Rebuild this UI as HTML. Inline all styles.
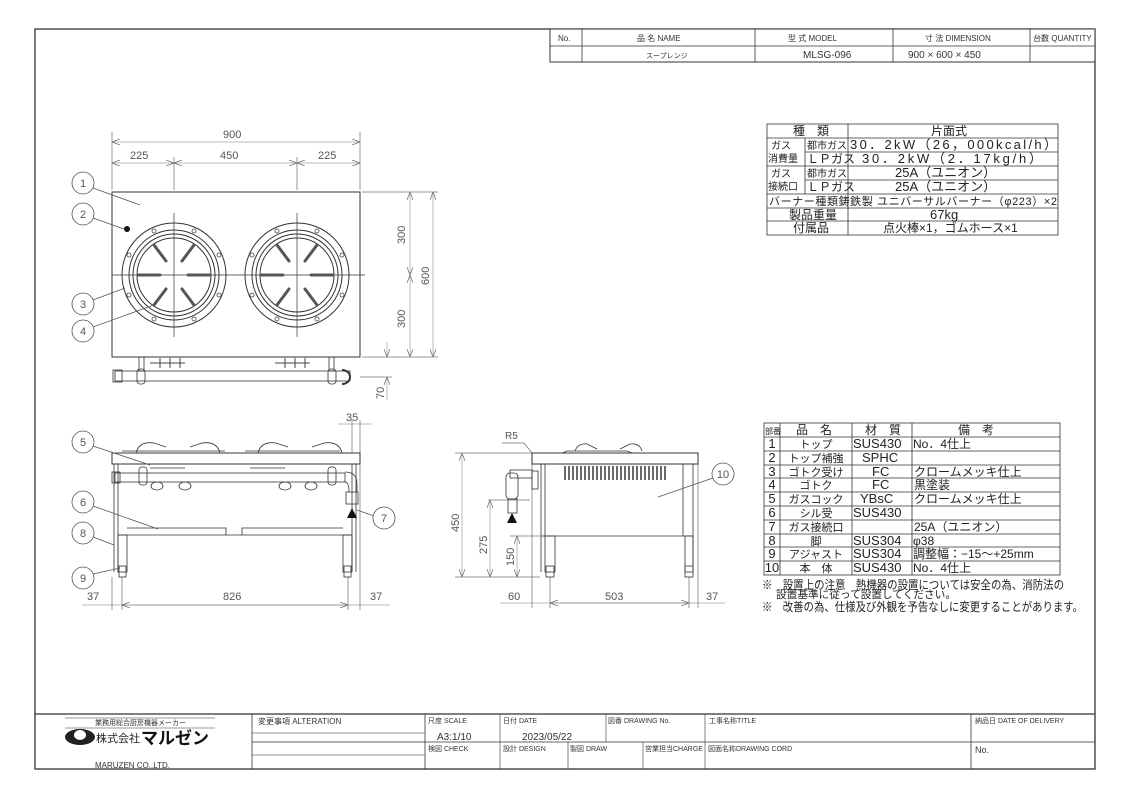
<!DOCTYPE html>
<html><head><meta charset="utf-8"><style>
html,body{margin:0;padding:0;background:#fff;}
svg{display:block;font-family:"Liberation Sans","Noto Sans CJK JP",sans-serif;}
</style></head><body>
<svg width="1131" height="799" viewBox="0 0 1131 799" xmlns="http://www.w3.org/2000/svg">
<defs>
<g id="burner">
<circle r="52" fill="none" stroke="#333" stroke-width="1"/>
<circle r="45" fill="none" stroke="#333" stroke-width="1"/>
<circle r="41" fill="none" stroke="#333" stroke-width="1"/>
<circle r="37" fill="none" stroke="#333" stroke-width="1"/>
<g fill="none" stroke="#444" stroke-width="0.8">
<circle cx="-20" cy="-44" r="2"/><circle cx="20" cy="-44" r="2"/><circle cx="-20" cy="44" r="2"/><circle cx="20" cy="44" r="2"/>
<circle cx="-45" cy="-20" r="2"/><circle cx="45" cy="-20" r="2"/><circle cx="-45" cy="20" r="2"/><circle cx="45" cy="20" r="2"/>
</g>
<g stroke="#555" stroke-width="3" stroke-linecap="round">
<line x1="-36" y1="0" x2="-14" y2="0"/><line x1="14" y1="0" x2="36" y2="0"/>
<line x1="-20" y1="-30" x2="-8" y2="-14"/><line x1="20" y1="-30" x2="8" y2="-14"/>
<line x1="-20" y1="30" x2="-8" y2="14"/><line x1="20" y1="30" x2="8" y2="14"/>
</g>
<line x1="0" y1="-62" x2="0" y2="62" stroke="#333" stroke-width="0.7"/>
</g>
<marker id="ar" markerWidth="8" markerHeight="6" refX="8" refY="3" orient="auto-start-reverse" markerUnits="userSpaceOnUse"><path d="M0,0L8,3L0,6" fill="none" stroke="#666" stroke-width="0.7"/></marker>
</defs>
<g stroke="#333" fill="none">
<rect x="35" y="29" width="1060" height="740" stroke-width="1.3"/>
<rect x="550" y="29" width="545" height="33" fill="#fff" stroke-width="1"/>
<line x1="550" y1="46" x2="1095" y2="46" stroke-width="0.8"/>
<line x1="582" y1="29" x2="582" y2="62" stroke-width="0.8"/>
<line x1="755" y1="29" x2="755" y2="62" stroke-width="0.8"/>
<line x1="893" y1="29" x2="893" y2="62" stroke-width="0.8"/>
<line x1="1030" y1="29" x2="1030" y2="62" stroke-width="0.8"/>
<line x1="35" y1="714" x2="1095" y2="714" stroke-width="1.2"/>
<line x1="252" y1="714" x2="252" y2="769" stroke-width="0.8"/>
<line x1="425" y1="714" x2="425" y2="769" stroke-width="0.8"/>
<line x1="971" y1="714" x2="971" y2="769" stroke-width="0.8"/>
<line x1="252" y1="742" x2="1095" y2="742" stroke-width="0.8"/>
<line x1="252" y1="733" x2="425" y2="733" stroke-width="0.6"/>
<line x1="252" y1="755" x2="425" y2="755" stroke-width="0.6"/>
<line x1="500" y1="714" x2="500" y2="769" stroke-width="0.6"/>
<line x1="606" y1="714" x2="606" y2="742" stroke-width="0.6"/>
<line x1="568" y1="742" x2="568" y2="769" stroke-width="0.6"/>
<line x1="643" y1="742" x2="643" y2="769" stroke-width="0.6"/>
<line x1="705" y1="714" x2="705" y2="769" stroke-width="0.6"/>
<line x1="65" y1="718" x2="215" y2="718" stroke-width="0.6"/>
<line x1="65" y1="728" x2="215" y2="728" stroke-width="0.6"/>
</g>
<g font-size="8" fill="#333">
<text x="558" y="41">No.</text>
<text x="637" y="41">品 名 NAME</text>
<text x="788" y="41">型 式 MODEL</text>
<text x="925" y="41">寸 法 DIMENSION</text>
<text x="1033" y="41">台数 QUANTITY</text>
<text x="646" y="58" font-size="7">スープレンジ</text>
<text x="803" y="58" font-size="10">MLSG-096</text>
<text x="908" y="58" font-size="10">900 × 600 × 450</text>
<text x="95" y="725" font-size="7">業務用総合厨房機器メーカー</text>
<text x="258" y="724">変更事項 ALTERATION</text>
<text x="428" y="723" font-size="7">尺度 SCALE</text>
<text x="437" y="740" font-size="10">A3:1/10</text>
<text x="503" y="723" font-size="7">日付 DATE</text>
<text x="522" y="740" font-size="10">2023/05/22</text>
<text x="608" y="723" font-size="7">図番 DRAWING No.</text>
<text x="709" y="723" font-size="7">工事名称TITLE</text>
<text x="975" y="723" font-size="7">納品日 DATE OF DELIVERY</text>
<text x="428" y="751" font-size="7">検図 CHECK</text>
<text x="503" y="751" font-size="7">設計 DESIGN</text>
<text x="570" y="751" font-size="7">製図 DRAW</text>
<text x="645" y="751" font-size="7">営業担当CHARGE</text>
<text x="708" y="751" font-size="7">図面名称DRAWING CORD</text>
<text x="975" y="753" font-size="9">No.</text>
<text x="95" y="768" font-size="8">MARUZEN CO.,LTD.</text>
</g>
<ellipse cx="80" cy="737" rx="15" ry="8" fill="#222"/>
<ellipse cx="80" cy="735" rx="6" ry="5" fill="#fff"/>
<text x="96" y="742" font-size="11" fill="#222">株式会社</text>
<text x="141" y="744" font-size="17" font-weight="bold" fill="#111">マルゼン</text>

<g stroke="#333" fill="none" stroke-width="0.8">
<rect x="112" y="192" width="248" height="165" stroke-width="1"/>
<line x1="112" y1="275" x2="365" y2="275" stroke-width="0.7"/>
<line x1="112" y1="132" x2="112" y2="190" stroke-width="0.5"/>
<line x1="360" y1="132" x2="360" y2="190" stroke-width="0.5"/>
<line x1="174" y1="157" x2="174" y2="190" stroke-width="0.5"/>
<line x1="297" y1="157" x2="297" y2="190" stroke-width="0.5"/>
<line x1="112" y1="142" x2="360" y2="142" stroke="#777" stroke-width="0.5" marker-start="url(#ar)" marker-end="url(#ar)"/>
<line x1="112" y1="163" x2="174" y2="163" stroke="#777" stroke-width="0.5" marker-start="url(#ar)" marker-end="url(#ar)"/>
<line x1="174" y1="163" x2="297" y2="163" stroke="#777" stroke-width="0.5" marker-start="url(#ar)" marker-end="url(#ar)"/>
<line x1="297" y1="163" x2="360" y2="163" stroke="#777" stroke-width="0.5" marker-start="url(#ar)" marker-end="url(#ar)"/>
<line x1="362" y1="192" x2="438" y2="192" stroke-width="0.5"/>
<line x1="362" y1="357" x2="438" y2="357" stroke-width="0.5"/>
<line x1="410" y1="192" x2="410" y2="275" stroke="#777" stroke-width="0.5" marker-start="url(#ar)" marker-end="url(#ar)"/>
<line x1="410" y1="275" x2="410" y2="357" stroke="#777" stroke-width="0.5" marker-start="url(#ar)" marker-end="url(#ar)"/>
<line x1="433" y1="192" x2="433" y2="357" stroke="#777" stroke-width="0.5" marker-start="url(#ar)" marker-end="url(#ar)"/>
<line x1="387" y1="342" x2="387" y2="357" stroke="#777" stroke-width="0.5" marker-end="url(#ar)"/>
<line x1="387" y1="377" x2="387" y2="400" stroke="#777" stroke-width="0.5" marker-start="url(#ar)"/>
<line x1="360" y1="377" x2="392" y2="377" stroke-width="0.5"/>
<rect x="115" y="371" width="235" height="10"/>
<rect x="113" y="370" width="9" height="12"/>
<rect x="139" y="357" width="5" height="14"/>
<rect x="329" y="357" width="5" height="14"/>
<rect x="137" y="369" width="8" height="15" rx="3"/>
<rect x="328" y="369" width="8" height="15" rx="3"/>
<path d="M342,370 a8,7 0 1 1 0,14" stroke-width="2"/>
</g>
<g stroke="#444" stroke-width="1" fill="none">
<path d="M150,363h25M160,358v10M170,358v10M180,358v10M165,363h20"/>
<path d="M275,363h25M285,358v10M295,358v10M305,358v10M290,363h20"/>
</g>
<use href="#burner" x="174" y="275"/>
<use href="#burner" x="297" y="275"/>
<circle cx="127" cy="229" r="3" fill="#111"/>
<g font-size="11" fill="#555">
<text x="223" y="138">900</text>
<text x="130" y="159">225</text>
<text x="220" y="159">450</text>
<text x="318" y="159">225</text>
<text transform="translate(405,244) rotate(-90)">300</text>
<text transform="translate(405,328) rotate(-90)">300</text>
<text transform="translate(429,285) rotate(-90)">600</text>
<text transform="translate(384,399) rotate(-90)">70</text>
</g>

<g stroke="#333" fill="none" stroke-width="0.8">
<rect x="112" y="453" width="248" height="11" stroke-width="1"/>
<path d="M136,453 q3,-12 18,-10 l12,4 M190,447 l12,-4 q15,-2 18,10" />
<path d="M258,453 q3,-12 18,-10 l12,4 M312,447 l12,-4 q15,-2 18,10" />
<line x1="122" y1="451" x2="225" y2="451"/><line x1="245" y1="451" x2="340" y2="451"/>
<line x1="114" y1="464" x2="114" y2="572"/>
<line x1="118" y1="464" x2="118" y2="572"/>
<line x1="352" y1="464" x2="352" y2="572"/>
<line x1="356" y1="464" x2="356" y2="572"/>
<rect x="118" y="535" width="9" height="37"/>
<rect x="343" y="535" width="9" height="37"/>
<rect x="119" y="566" width="7" height="11"/>
<rect x="344" y="566" width="7" height="11"/>
<path d="M118,535 H352 M127,528 H226 V535 M242,535 V528 H343"/>
<rect x="115" y="473" width="230" height="9"/>
<rect x="112" y="472" width="8" height="11"/>
<rect x="139" y="467" width="8" height="18" rx="3"/>
<rect x="328" y="467" width="8" height="18" rx="3"/>
<path d="M345,472 q12,0 12,12 v8 M345,482 q4,0 4,10"/>
<rect x="346" y="492" width="12" height="12"/>
<path d="M150,468h35M250,468h35"/>
<ellipse cx="157" cy="486" rx="6" ry="4"/><ellipse cx="185" cy="486" rx="6" ry="4"/>
<ellipse cx="285" cy="486" rx="6" ry="4"/><ellipse cx="311" cy="486" rx="6" ry="4"/>
<line x1="112" y1="577" x2="112" y2="610" stroke-width="0.5"/>
<line x1="122" y1="577" x2="122" y2="610" stroke-width="0.5"/>
<line x1="348" y1="577" x2="348" y2="610" stroke-width="0.5"/>
<line x1="360" y1="420" x2="360" y2="610" stroke-width="0.5"/>
<line x1="352" y1="420" x2="352" y2="453" stroke-width="0.5"/>
<line x1="82" y1="605" x2="390" y2="605" stroke="#777" stroke-width="0.5"/>
<line x1="122" y1="605" x2="348" y2="605" stroke="#777" stroke-width="0.5" marker-start="url(#ar)" marker-end="url(#ar)"/>
<line x1="338" y1="424" x2="372" y2="424" stroke="#777" stroke-width="0.5"/>
</g>
<path d="M347,518 l5,-10 l5,10z" fill="#111"/>
<g font-size="11" fill="#555">
<text x="346" y="421">35</text>
<text x="87" y="600">37</text>
<text x="223" y="600">826</text>
<text x="370" y="600">37</text>
</g>

<g stroke="#333" fill="none" stroke-width="0.8">
<rect x="532" y="453" width="166" height="11" stroke-width="1"/>
<path d="M562,453 l5,-2 h60 l5,2 M575,451 q3,-8 12,-7 l10,5 M620,449 l10,-5 q10,-1 12,7"/>
<line x1="541" y1="464" x2="541" y2="572"/>
<line x1="545" y1="464" x2="545" y2="536"/>
<line x1="683" y1="464" x2="683" y2="536"/>
<line x1="693" y1="464" x2="693" y2="572"/>
<line x1="541" y1="536" x2="693" y2="536"/>
<rect x="545" y="536" width="10" height="36"/>
<rect x="685" y="536" width="8" height="36"/>
<rect x="546" y="566" width="8" height="11"/>
<rect x="685" y="566" width="8" height="11"/>
<rect x="532" y="471" width="6" height="18"/>
<rect x="510" y="470" width="22" height="8"/>
<rect x="506" y="473" width="12" height="26" rx="4"/>
<rect x="508" y="499" width="9" height="14"/>
<line x1="488" y1="500" x2="530" y2="500" stroke-width="0.5"/>
<line x1="455" y1="453" x2="532" y2="453" stroke-width="0.5"/>
<line x1="455" y1="577" x2="540" y2="577" stroke-width="0.5"/>
<line x1="510" y1="536" x2="540" y2="536" stroke-width="0.5"/>
<line x1="462" y1="453" x2="462" y2="577" stroke="#777" stroke-width="0.5" marker-start="url(#ar)" marker-end="url(#ar)"/>
<line x1="490" y1="500" x2="490" y2="577" stroke="#777" stroke-width="0.5" marker-start="url(#ar)" marker-end="url(#ar)"/>
<line x1="517" y1="536" x2="517" y2="577" stroke="#777" stroke-width="0.5" marker-start="url(#ar)" marker-end="url(#ar)"/>
<line x1="532" y1="464" x2="532" y2="608" stroke-width="0.5"/>
<line x1="550" y1="577" x2="550" y2="608" stroke-width="0.5"/>
<line x1="689" y1="577" x2="689" y2="608" stroke-width="0.5"/>
<line x1="698" y1="464" x2="698" y2="608" stroke-width="0.5"/>
<line x1="500" y1="603" x2="725" y2="603" stroke="#777" stroke-width="0.5"/>
<line x1="550" y1="603" x2="689" y2="603" stroke="#777" stroke-width="0.5" marker-start="url(#ar)" marker-end="url(#ar)"/>
<path d="M502,443 h22 l8,10" stroke-width="0.6"/>
</g>
<g stroke="#444" stroke-width="1.6">
<path d="M565,466v14M569,466v14M573,466v14M577,466v14M581,466v14M585,466v14M589,466v14M593,466v14M597,466v14M601,466v14M605,466v14M609,466v14M613,466v14M617,466v14M621,466v14M625,466v14M629,466v14M633,466v14M637,466v14M641,466v14M645,466v14M649,466v14M653,466v14M657,466v14M661,466v14M665,466v14"/>
</g>
<path d="M507,523 l5,-10 l5,10z" fill="#111"/>
<g font-size="11" fill="#555">
<text x="505" y="439" font-size="10">R5</text>
<text transform="translate(459,532) rotate(-90)">450</text>
<text transform="translate(487,554) rotate(-90)">275</text>
<text transform="translate(514,566) rotate(-90)">150</text>
<text x="508" y="600">60</text>
<text x="605" y="600">503</text>
<text x="706" y="600">37</text>
</g>

<g stroke="#555" fill="#fff" stroke-width="0.8">
<line x1="93" y1="188" x2="140" y2="205"/>
<line x1="93" y1="218" x2="124" y2="229"/>
<line x1="93" y1="300" x2="125" y2="288"/>
<line x1="93" y1="327" x2="154" y2="305"/>
<line x1="93" y1="446" x2="150" y2="465"/>
<line x1="93" y1="506" x2="158" y2="529"/>
<line x1="93" y1="537" x2="114" y2="545"/>
<line x1="93" y1="574" x2="120" y2="568"/>
<line x1="374" y1="516" x2="357" y2="510"/>
<line x1="713" y1="478" x2="658" y2="497"/>
<circle cx="83" cy="183" r="11"/><circle cx="83" cy="214" r="11"/>
<circle cx="83" cy="304" r="11"/><circle cx="83" cy="331" r="11"/>
<circle cx="83" cy="442" r="11"/><circle cx="83" cy="502" r="11"/>
<circle cx="83" cy="533" r="11"/><circle cx="83" cy="578" r="11"/>
<circle cx="384" cy="518" r="11"/><circle cx="723" cy="474" r="11"/>
</g>
<g font-size="11" fill="#555" text-anchor="middle">
<text x="83" y="187">1</text><text x="83" y="218">2</text>
<text x="83" y="308">3</text><text x="83" y="335">4</text>
<text x="83" y="446">5</text><text x="83" y="506">6</text>
<text x="83" y="537">8</text><text x="83" y="582">9</text>
<text x="384" y="522">7</text><text x="723" y="478">10</text>
</g>

<g stroke="#333" fill="none" stroke-width="0.8">
<rect x="767" y="124" width="291" height="111"/>
<path d="M767,138H1058M805,152H1058M767,166H1058M805,180H1058M767,194H1058M767,208H1058M767,221H1058"/>
<path d="M848,124V235M805,138V194"/>
</g>
<g font-size="12" fill="#222">
<text x="793" y="135">種　類</text>
<text x="931" y="135">片面式</text>
<text x="771" y="149" font-size="10">ガス</text>
<text x="768" y="162" font-size="10">消費量</text>
<text x="771" y="177" font-size="10">ガス</text>
<text x="768" y="190" font-size="10">接続口</text>
<text x="807" y="149" font-size="10">都市ガス</text>
<text x="807" y="163">ＬＰガス</text>
<text x="807" y="177" font-size="10">都市ガス</text>
<text x="807" y="191">ＬＰガス</text>
<text x="850" y="149" font-size="13" textLength="207">30．2kW（26，000kcal/h）</text>
<text x="862" y="163" font-size="13" textLength="180">30．2kW（2．17kg/h）</text>
<text x="895" y="177" font-size="13">25A（ユニオン）</text>
<text x="895" y="191" font-size="13">25A（ユニオン）</text>
<text x="769" y="205" font-size="11" textLength="288">バーナー種類鋳鉄製 ユニバーサルバーナー（φ223）×2</text>
<text x="789" y="219">製品重量</text>
<text x="930" y="219" font-size="13">67kg</text>
<text x="793" y="232">付属品</text>
<text x="883" y="232">点火棒×1，ゴムホース×1</text>
</g>

<g stroke="#333" fill="none" stroke-width="0.8">
<rect x="764" y="423" width="296" height="152"/>
<path d="M764,437H1060M764,451H1060M764,465H1060M764,478H1060M764,492H1060M764,506H1060M764,520H1060M764,534H1060M764,547H1060M764,561H1060"/>
<path d="M780,423V575M852,423V575M912,423V575"/>
</g>
<g font-size="12" fill="#222">
<text x="765" y="434" font-size="8">部番</text>
<text x="796" y="434">品　名</text>
<text x="865" y="434">材　質</text>
<text x="958" y="434">備　考</text>
<g text-anchor="middle" font-size="13">
<text x="772" y="448">1</text><text x="772" y="462">2</text><text x="772" y="476">3</text><text x="772" y="489">4</text><text x="772" y="503">5</text><text x="772" y="517">6</text><text x="772" y="531">7</text><text x="772" y="545">8</text><text x="772" y="558">9</text><text x="772" y="572">10</text>
</g>
<g text-anchor="middle" font-size="11">
<text x="816" y="448">トップ</text><text x="816" y="462">トップ補強</text><text x="816" y="476">ゴトク受け</text><text x="816" y="489">ゴトク</text><text x="816" y="503">ガスコック</text><text x="816" y="517">シル受</text><text x="816" y="531">ガス接続口</text><text x="816" y="545">脚</text><text x="816" y="558">アジャスト</text><text x="816" y="572">本　体</text>
</g>
<g font-size="13">
<text x="853" y="448">SUS430</text><text x="862" y="462">SPHC</text><text x="872" y="476">FC</text><text x="872" y="489">FC</text><text x="860" y="503">YBsC</text><text x="853" y="517">SUS430</text><text x="853" y="545">SUS304</text><text x="853" y="558">SUS304</text><text x="853" y="572">SUS430</text>
</g>
<g font-size="12">
<text x="913" y="448">No．4仕上</text><text x="914" y="476">クロームメッキ仕上</text><text x="914" y="489">黒塗装</text><text x="914" y="503">クロームメッキ仕上</text><text x="914" y="531">25A（ユニオン）</text><text x="913" y="545">φ38</text><text x="913" y="558">調整幅：−15〜+25mm</text><text x="913" y="572">No．4仕上</text>
</g>
<text x="762" y="589" textLength="302" lengthAdjust="spacingAndGlyphs">※　設置上の注意　熱機器の設置については安全の為、消防法の</text>
<text x="776" y="598" font-size="11" textLength="180" lengthAdjust="spacingAndGlyphs">設置基準に従って設置してください。</text>
<text x="762" y="611" textLength="321" lengthAdjust="spacingAndGlyphs">※　改善の為、仕様及び外観を予告なしに変更することがあります。</text>
</g>
</svg>
</body></html>
